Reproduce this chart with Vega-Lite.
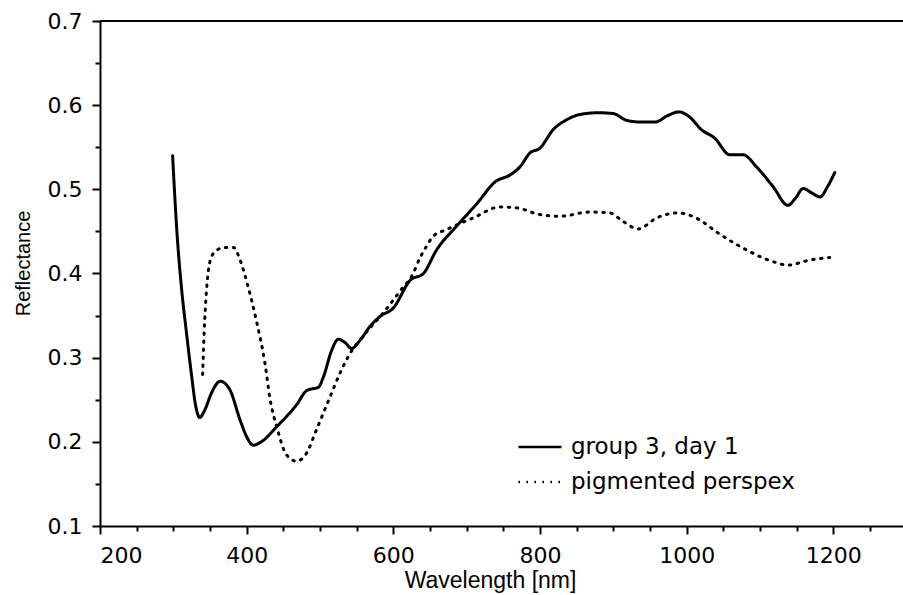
{
  "$schema": "https://vega.github.io/schema/vega-lite/v6.json",
  "width": 803,
  "height": 505,
  "autosize": {"type": "none"},
  "padding": {"left": 100, "top": 21, "right": 0, "bottom": 69},
  "background": "white",
  "config": {
    "view": {"stroke": null},
    "font": "DejaVu Sans"
  },
  "data": {
    "values": [
      {"series": "group 3, day 1", "wl": 299, "r": 0.540},
      {"series": "group 3, day 1", "wl": 305, "r": 0.448},
      {"series": "group 3, day 1", "wl": 311, "r": 0.384},
      {"series": "group 3, day 1", "wl": 318, "r": 0.329},
      {"series": "group 3, day 1", "wl": 325, "r": 0.278},
      {"series": "group 3, day 1", "wl": 330, "r": 0.245},
      {"series": "group 3, day 1", "wl": 336, "r": 0.229},
      {"series": "group 3, day 1", "wl": 343, "r": 0.238},
      {"series": "group 3, day 1", "wl": 352, "r": 0.258},
      {"series": "group 3, day 1", "wl": 364, "r": 0.272},
      {"series": "group 3, day 1", "wl": 377, "r": 0.262},
      {"series": "group 3, day 1", "wl": 391, "r": 0.226},
      {"series": "group 3, day 1", "wl": 400, "r": 0.206},
      {"series": "group 3, day 1", "wl": 409, "r": 0.196},
      {"series": "group 3, day 1", "wl": 420, "r": 0.200},
      {"series": "group 3, day 1", "wl": 441, "r": 0.218},
      {"series": "group 3, day 1", "wl": 468, "r": 0.244},
      {"series": "group 3, day 1", "wl": 482, "r": 0.261},
      {"series": "group 3, day 1", "wl": 498, "r": 0.265},
      {"series": "group 3, day 1", "wl": 505, "r": 0.278},
      {"series": "group 3, day 1", "wl": 516, "r": 0.309},
      {"series": "group 3, day 1", "wl": 525, "r": 0.322},
      {"series": "group 3, day 1", "wl": 534, "r": 0.318},
      {"series": "group 3, day 1", "wl": 543, "r": 0.311},
      {"series": "group 3, day 1", "wl": 555, "r": 0.321},
      {"series": "group 3, day 1", "wl": 568, "r": 0.337},
      {"series": "group 3, day 1", "wl": 582, "r": 0.349},
      {"series": "group 3, day 1", "wl": 600, "r": 0.359},
      {"series": "group 3, day 1", "wl": 623, "r": 0.392},
      {"series": "group 3, day 1", "wl": 641, "r": 0.400},
      {"series": "group 3, day 1", "wl": 659, "r": 0.428},
      {"series": "group 3, day 1", "wl": 686, "r": 0.456},
      {"series": "group 3, day 1", "wl": 714, "r": 0.483},
      {"series": "group 3, day 1", "wl": 739, "r": 0.509},
      {"series": "group 3, day 1", "wl": 759, "r": 0.517},
      {"series": "group 3, day 1", "wl": 773, "r": 0.527},
      {"series": "group 3, day 1", "wl": 786, "r": 0.543},
      {"series": "group 3, day 1", "wl": 800, "r": 0.549},
      {"series": "group 3, day 1", "wl": 818, "r": 0.571},
      {"series": "group 3, day 1", "wl": 835, "r": 0.582},
      {"series": "group 3, day 1", "wl": 855, "r": 0.589},
      {"series": "group 3, day 1", "wl": 880, "r": 0.591},
      {"series": "group 3, day 1", "wl": 900, "r": 0.590},
      {"series": "group 3, day 1", "wl": 918, "r": 0.582},
      {"series": "group 3, day 1", "wl": 936, "r": 0.580},
      {"series": "group 3, day 1", "wl": 957, "r": 0.580},
      {"series": "group 3, day 1", "wl": 975, "r": 0.588},
      {"series": "group 3, day 1", "wl": 989, "r": 0.592},
      {"series": "group 3, day 1", "wl": 1004, "r": 0.586},
      {"series": "group 3, day 1", "wl": 1020, "r": 0.571},
      {"series": "group 3, day 1", "wl": 1038, "r": 0.561},
      {"series": "group 3, day 1", "wl": 1059, "r": 0.541},
      {"series": "group 3, day 1", "wl": 1077, "r": 0.541},
      {"series": "group 3, day 1", "wl": 1095, "r": 0.527},
      {"series": "group 3, day 1", "wl": 1118, "r": 0.503},
      {"series": "group 3, day 1", "wl": 1138, "r": 0.481},
      {"series": "group 3, day 1", "wl": 1148, "r": 0.489},
      {"series": "group 3, day 1", "wl": 1159, "r": 0.501},
      {"series": "group 3, day 1", "wl": 1170, "r": 0.496},
      {"series": "group 3, day 1", "wl": 1182, "r": 0.491},
      {"series": "group 3, day 1", "wl": 1192, "r": 0.503},
      {"series": "group 3, day 1", "wl": 1202, "r": 0.520},
      {"series": "pigmented perspex", "wl": 340, "r": 0.280},
      {"series": "pigmented perspex", "wl": 342, "r": 0.329},
      {"series": "pigmented perspex", "wl": 345, "r": 0.377},
      {"series": "pigmented perspex", "wl": 352, "r": 0.420},
      {"series": "pigmented perspex", "wl": 360, "r": 0.428},
      {"series": "pigmented perspex", "wl": 368, "r": 0.431},
      {"series": "pigmented perspex", "wl": 382, "r": 0.431},
      {"series": "pigmented perspex", "wl": 391, "r": 0.416},
      {"series": "pigmented perspex", "wl": 402, "r": 0.384},
      {"series": "pigmented perspex", "wl": 413, "r": 0.345},
      {"series": "pigmented perspex", "wl": 425, "r": 0.293},
      {"series": "pigmented perspex", "wl": 432, "r": 0.250},
      {"series": "pigmented perspex", "wl": 441, "r": 0.218},
      {"series": "pigmented perspex", "wl": 454, "r": 0.185},
      {"series": "pigmented perspex", "wl": 468, "r": 0.177},
      {"series": "pigmented perspex", "wl": 482, "r": 0.187},
      {"series": "pigmented perspex", "wl": 495, "r": 0.214},
      {"series": "pigmented perspex", "wl": 514, "r": 0.254},
      {"series": "pigmented perspex", "wl": 529, "r": 0.285},
      {"series": "pigmented perspex", "wl": 541, "r": 0.305},
      {"series": "pigmented perspex", "wl": 563, "r": 0.330},
      {"series": "pigmented perspex", "wl": 586, "r": 0.353},
      {"series": "pigmented perspex", "wl": 610, "r": 0.380},
      {"series": "pigmented perspex", "wl": 627, "r": 0.400},
      {"series": "pigmented perspex", "wl": 636, "r": 0.418},
      {"series": "pigmented perspex", "wl": 645, "r": 0.432},
      {"series": "pigmented perspex", "wl": 654, "r": 0.444},
      {"series": "pigmented perspex", "wl": 672, "r": 0.452},
      {"series": "pigmented perspex", "wl": 682, "r": 0.456},
      {"series": "pigmented perspex", "wl": 709, "r": 0.466},
      {"series": "pigmented perspex", "wl": 745, "r": 0.479},
      {"series": "pigmented perspex", "wl": 768, "r": 0.478},
      {"series": "pigmented perspex", "wl": 800, "r": 0.470},
      {"series": "pigmented perspex", "wl": 827, "r": 0.468},
      {"series": "pigmented perspex", "wl": 868, "r": 0.473},
      {"series": "pigmented perspex", "wl": 895, "r": 0.472},
      {"series": "pigmented perspex", "wl": 913, "r": 0.462},
      {"series": "pigmented perspex", "wl": 934, "r": 0.453},
      {"series": "pigmented perspex", "wl": 959, "r": 0.466},
      {"series": "pigmented perspex", "wl": 988, "r": 0.472},
      {"series": "pigmented perspex", "wl": 1015, "r": 0.465},
      {"series": "pigmented perspex", "wl": 1043, "r": 0.448},
      {"series": "pigmented perspex", "wl": 1086, "r": 0.426},
      {"series": "pigmented perspex", "wl": 1118, "r": 0.414},
      {"series": "pigmented perspex", "wl": 1138, "r": 0.410},
      {"series": "pigmented perspex", "wl": 1168, "r": 0.416},
      {"series": "pigmented perspex", "wl": 1195, "r": 0.419}
    ]
  },
  "layer": [
    {
      "mark": {"type": "line", "interpolate": "monotone", "color": "black", "strokeWidth": 3, "strokeCap": "round"},
      "encoding": {
        "x": {
          "field": "wl", "type": "quantitative",
          "scale": {"domain": [200, 1295], "nice": false, "zero": false},
          "axis": {
            "orient": "bottom", "values": [200, 400, 600, 800, 1000, 1200], "format": "d",
            "title": "Wavelength [nm]", "titleFont": "Liberation Sans", "titleFontSize": 23,
            "titleFontWeight": "normal", "titleColor": "black", "titlePadding": 3, "titleX": 390,
            "labelFontSize": 22, "labelColor": "black", "labelPadding": 11,
            "tickSize": 8, "tickWidth": 2, "tickColor": "black",
            "domainColor": "black", "domainWidth": 2, "grid": false
          }
        },
        "y": {
          "field": "r", "type": "quantitative",
          "scale": {"domain": [0.1, 0.7], "nice": false, "zero": false},
          "axis": {
            "orient": "left", "values": [0.1, 0.2, 0.3, 0.4, 0.5, 0.6, 0.7], "format": ".1f",
            "title": "Reflectance", "titleFont": "Liberation Sans", "titleFontSize": 20,
            "titleFontWeight": "normal", "titleColor": "black", "titlePadding": 14, "titleY": 242,
            "labelFontSize": 22, "labelColor": "black", "labelPadding": 10,
            "tickSize": 8, "tickWidth": 2, "tickColor": "black",
            "domainColor": "black", "domainWidth": 2, "grid": false
          }
        },
        "detail": {"field": "series"},
        "strokeDash": {
          "field": "series", "type": "nominal",
          "scale": {"domain": ["group 3, day 1", "pigmented perspex"], "range": [[1, 0], [1.5, 6.5]]},
          "legend": {
            "title": null, "orient": "none", "legendX": 417, "legendY": 403,
            "symbolType": "stroke", "symbolSize": 1849, "symbolStrokeWidth": 2.5,
            "symbolStrokeColor": "black", "labelFontSize": 23, "labelColor": "black",
            "labelOffset": 8, "labelLimit": 0, "rowPadding": -18
          }
        }
      }
    },
    {
      "mark": {"type": "line", "strokeOpacity": 0},
      "encoding": {
        "x": {
          "field": "wl", "type": "quantitative",
          "axis": {
            "orient": "bottom",
            "values": [250, 300, 350, 450, 500, 550, 650, 700, 750, 850, 900, 950, 1050, 1100, 1150, 1250],
            "labels": false, "title": null, "domain": false, "grid": false,
            "tickSize": 5, "tickWidth": 2, "tickColor": "black"
          }
        },
        "y": {
          "field": "r", "type": "quantitative",
          "axis": {
            "orient": "left", "values": [0.15, 0.25, 0.35, 0.45, 0.55, 0.65],
            "labels": false, "title": null, "domain": false, "grid": false,
            "tickSize": 5, "tickWidth": 2, "tickColor": "black"
          }
        },
        "detail": {"field": "series"}
      }
    },
    {
      "mark": {"type": "rule", "color": "black", "strokeWidth": 2},
      "encoding": {
        "y": {"datum": 0.7, "axis": null}
      }
    }
  ],
  "resolve": {"axis": {"x": "independent", "y": "independent"}}
}
